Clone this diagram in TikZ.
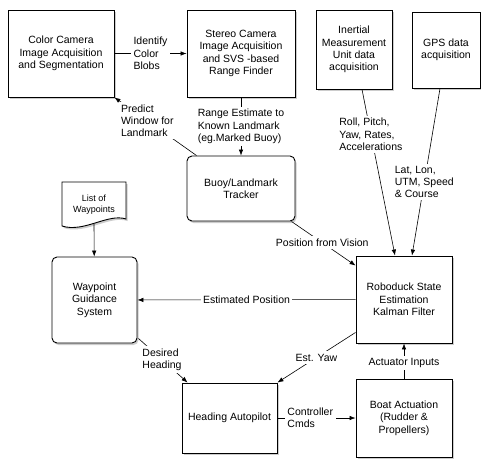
\documentclass[tikz,border=0pt]{standalone}
\usepackage{fontspec}
\setmainfont{Liberation Sans}
\usetikzlibrary{arrows.meta,shadows}

\begin{document}
\begin{tikzpicture}[x=1pt, y=-1pt,
    box/.style={draw, rectangle, align=center, fill=white, line width=0.9pt,
        drop shadow={shadow xshift=1.5pt, shadow yshift=-2pt, opacity=0.4},
        font=\fontsize{10.5}{12.3}\selectfont},
    rbox/.style={box, rounded corners=5pt},
    lbl/.style={fill=white, inner sep=2.5pt, align=left,
        font=\fontsize{10.5}{12.3}\selectfont},
    arr/.style={-{Latex[length=6pt, width=4.5pt]}, line width=0.6pt}]

    \useasboundingbox (0, 0) rectangle (481, 458);

    \node [box, minimum width=106pt, minimum height=87pt] (cc) at (61, 53.5) {Color Camera \\ Image Acquisition \\ and Segmentation};
    \node [box, minimum width=108pt, minimum height=87pt] (svs) at (241, 53.5) {Stereo Camera \\ Image Acquisition \\ and SVS -based \\ Range Finder};
    \node [box, minimum width=76pt, minimum height=79pt] (imu) at (354, 49.5) {Inertial \\ Measurement \\ Unit data \\ acquisition};
    \node [box, minimum width=68pt, minimum height=76pt] (gps) at (446, 50) {GPS data \\ acquisition};
    \node [rbox, minimum width=108pt, minimum height=65pt] (buoy) at (241, 188.5) {Buoy/Landmark \\ Tracker};
    \node [rbox, minimum width=85pt, minimum height=86pt] (wpg) at (94.5, 300) {Waypoint \\ Guidance \\ System};
    \node [box, minimum width=96pt, minimum height=87pt] (kf) at (404, 299.5) {Roboduck State \\ Estimation \\ Kalman Filter};
    \node [box, minimum width=95pt, minimum height=70pt] (hap) at (229.5, 418) {Heading Autopilot};
    \node [box, minimum width=96pt, minimum height=78pt] (boat) at (404, 418) {Boat Actuation \\ (Rudder \& \\ Propellers)};

    % document shape for the waypoint list
    \draw [fill=white, line width=0.9pt, drop shadow={shadow xshift=1.5pt, shadow yshift=-2pt, opacity=0.4}]
        (62, 182) -- (126, 182) -- (126, 219) .. controls (108, 213) and (84, 233) .. (62, 226) -- cycle;
    \node [align=center, font=\fontsize{9}{10.7}\selectfont] (wpl) at (94, 204.5) {List of \\ Waypoints};
    \coordinate (wplbot) at (94, 224);

    \draw [arr] (cc) -- node [lbl] {Identify \\ Color \\ Blobs} (svs);
    \draw [arr] (svs) -- node [lbl] {Range Estimate to \\ Known Landmark \\ (eg.Marked Buoy)} (buoy);
    \draw [arr] ([xshift=10pt]buoy.north west) -- node [lbl, pos=0.6] {Predict \\ Window for \\ Landmark} (cc.south east);
    \draw [arr] ([xshift=8pt]imu.south) -- node [lbl, pos=0.27] {Roll, Pitch, \\ Yaw, Rates, \\ Accelerations} ([xshift=-9pt]kf.north);
    \draw [arr] ([xshift=-6pt]gps.south) -- node [lbl, pos=0.56] {Lat, Lon, \\ UTM, Speed \\ \& Course} ([xshift=8pt]kf.north);
    \draw [arr] ([xshift=-4pt]buoy.south east) -- node [lbl, pos=0.48] {Position from Vision} ([yshift=-10pt]kf.north west);
    \draw [arr] (kf) -- node [lbl] {Estimated Position} (wpg);
    \draw [arr] (wplbot) -- (wpg);
    \draw [arr] ([shift={(1pt,5pt)}]wpg.south east) -- node [lbl, pos=0.48] {Desired \\ Heading} ([xshift=6pt]hap.north west);
    \draw [arr] ([yshift=11pt]kf.south west) -- node [lbl] {Est. Yaw} (hap.north east);
    \draw [arr] (hap) -- node [lbl, pos=0.42] {Controller \\ Cmds} (boat);
    \draw [arr] (boat) -- node [lbl, pos=0.45] {Actuator Inputs} (kf);

\end{tikzpicture}
\end{document}
